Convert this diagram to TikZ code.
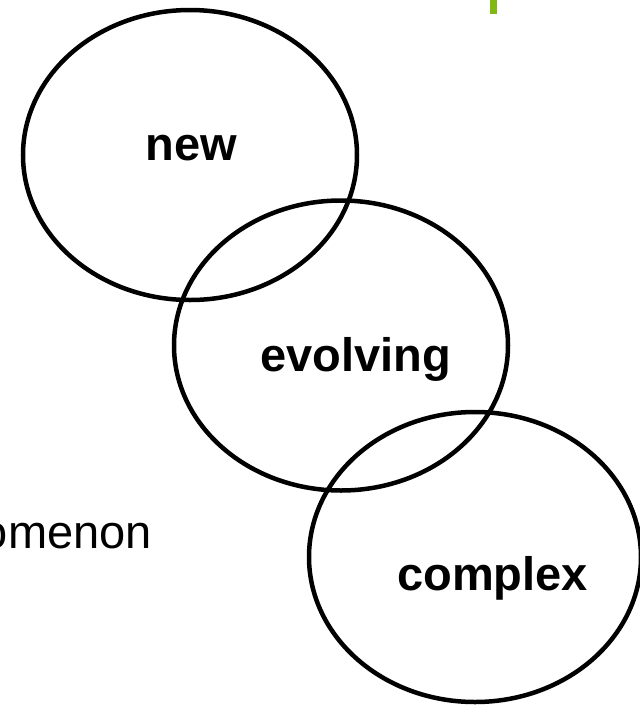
\documentclass[tikz,border=0pt]{standalone}
\usepackage{fontspec}
\setmainfont{Liberation Sans}
\usepackage{tikz}
\usepackage{xcolor}
\usetikzlibrary{shapes.geometric}
\definecolor{accentgreen}{RGB}{128,185,20}

\begin{document}
\begin{tikzpicture}[x=1pt, y=-1pt,
    ring/.style={draw, ellipse, line width=4.5pt, inner sep=0pt, minimum width=334pt, minimum height=290pt},
    word/.style={font=\fontsize{47}{56}\selectfont\bfseries, anchor=base, inner sep=0pt}]
      \useasboundingbox (0,0) rectangle (640,705);
      \clip (0,0) rectangle (640,705);
      \fill[accentgreen] (489.5,0) rectangle (497,13.5);
      \node[ring] (ringnew) at (190,155) {};
      \node[ring] (ringevolving) at (341,345.5) {};
      \node[ring, minimum width=332pt] (ringcomplex) at (475,557) {};
      \node[word] (new) at (191,160) {new};
      \node[word] (evolving) at (356,371) {evolving};
      \node[word] (complex) at (492.5,590) {complex};
      \node[anchor=base east, inner sep=0pt, font=\fontsize{47}{56}\selectfont] (phen) at (152,548) {omenon};
    \end{tikzpicture}
\end{document}
